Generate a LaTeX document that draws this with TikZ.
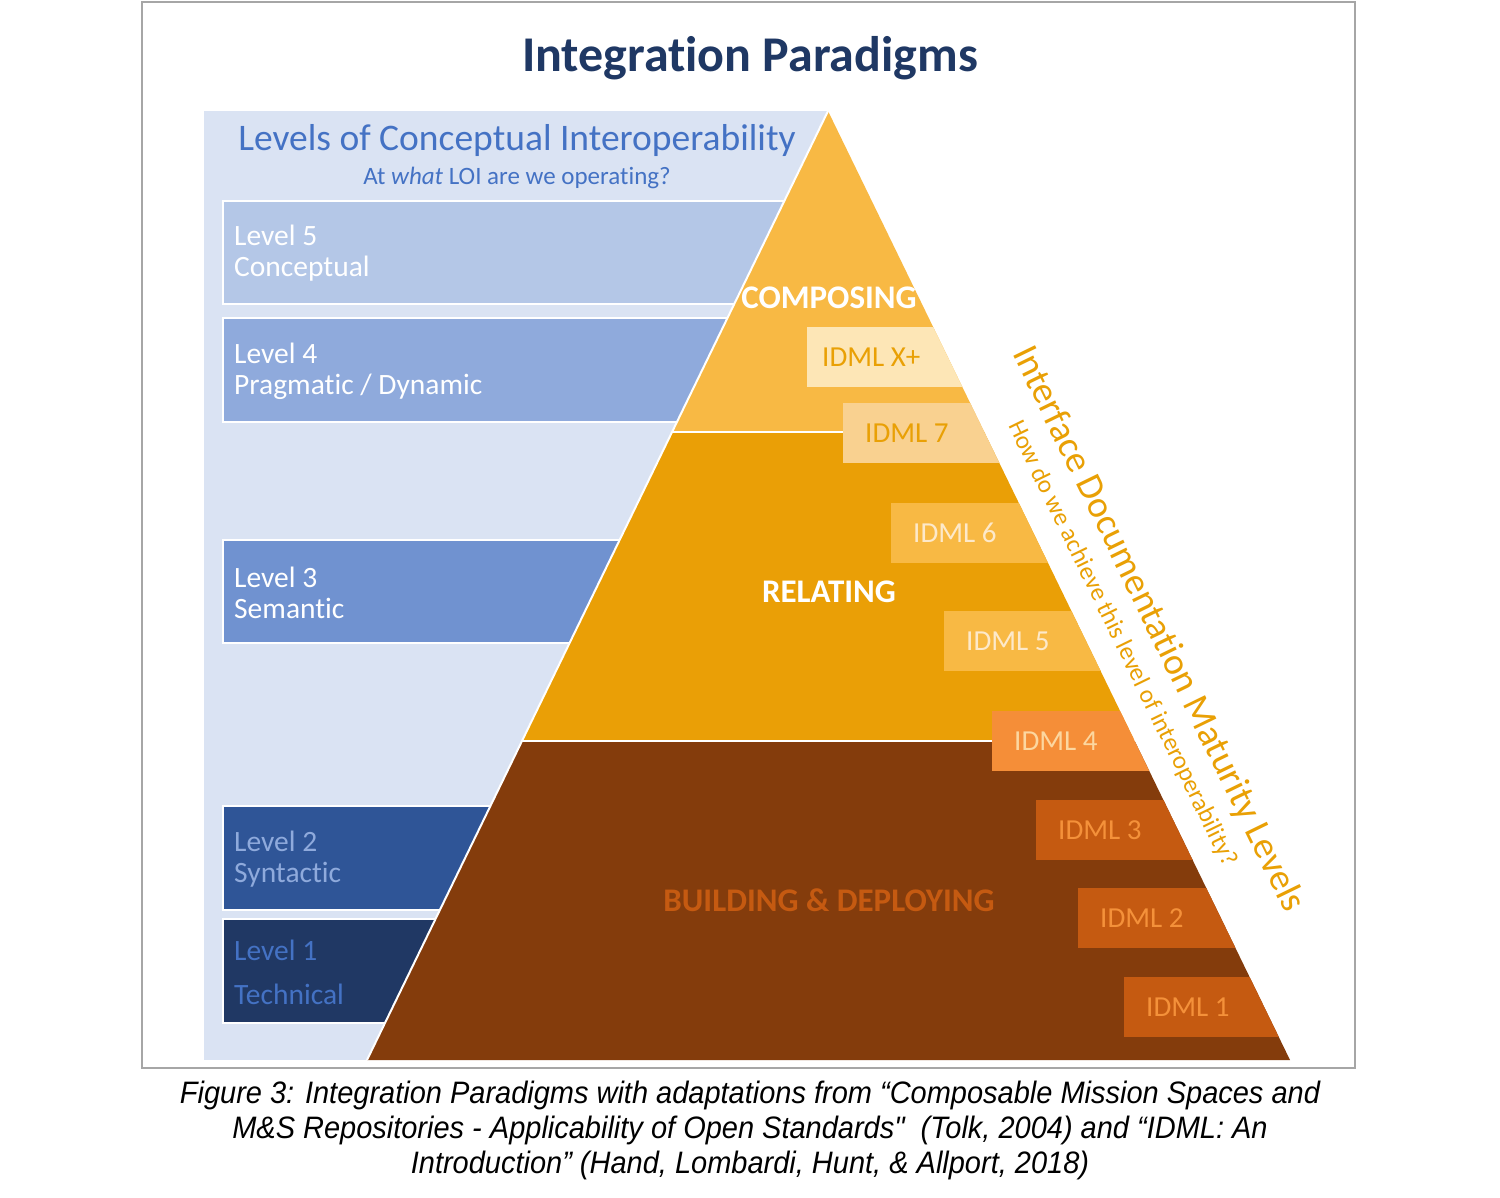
\documentclass[tikz,border=0pt]{standalone}
\usepackage{fontspec}
\setmainfont{Carlito}[Ligatures=NoCommon]
\newfontfamily\capfont[FakeStretch=0.935]{Liberation Sans}
\usepackage{tikz}
\usetikzlibrary{calc,positioning}

\definecolor{frameGray}{HTML}{A6A6A6}
\definecolor{panelBlue}{HTML}{DAE3F3}
\definecolor{titleNavy}{HTML}{1F3864}
\definecolor{loiBlue}{HTML}{4472C4}
\definecolor{lvlFive}{HTML}{B4C7E7}
\definecolor{lvlFour}{HTML}{8FAADC}
\definecolor{lvlThree}{HTML}{7092D0}
\definecolor{lvlTwo}{HTML}{2F5597}
\definecolor{lvlOne}{HTML}{203864}
\definecolor{tierTop}{HTML}{F8B944}
\definecolor{tierMid}{HTML}{EA9F06}
\definecolor{tierLow}{HTML}{843C0C}
\definecolor{idmlXp}{HTML}{FDE6B6}
\definecolor{idmlSeven}{HTML}{F9D190}
\definecolor{idmlFour}{HTML}{F58E38}
\definecolor{idmlLow}{HTML}{C55A11}
\definecolor{sideOrange}{HTML}{E9A005}
\definecolor{creamTxt}{HTML}{FDE9CA}
\definecolor{paleTxt}{HTML}{FCD7A0}
\definecolor{rustTxt}{HTML}{F4913A}

\begin{document}
\begin{tikzpicture}[
  x=1pt, y=-1pt,
  lvl/.style={draw=white, line width=2pt},
  lvltxt/.style={anchor=west, align=left, inner sep=0pt,
                 font=\fontsize{29.5}{31}\selectfont},
  tier/.style={draw=white, line width=2pt},
  idml/.style={anchor=west, inner sep=0pt, font=\fontsize{29}{31}\selectfont},
  tierlbl/.style={inner sep=0pt, font=\bfseries\fontsize{33}{36}\selectfont},
  side/.style={text=sideOrange, rotate=-64, anchor=base west, inner sep=0pt},
]
\useasboundingbox[fill=white] (0,0) rectangle (1500,1198);

% ---- frame and panel -------------------------------------------------------
\draw[frameGray, line width=2pt] (142,2) rectangle (1355,1068);
\fill[panelBlue] (204,111) rectangle (828,1060);

% ---- headings --------------------------------------------------------------
\node[text=titleNavy, font=\bfseries\fontsize{50}{54}\selectfont] (title) at (750,58)
  {Integration Paradigms};
\node[text=loiBlue, font=\fontsize{37.5}{40}\selectfont] (loiHead) at (517,141)
  {Levels of Conceptual Interoperability};
\node[text=loiBlue, font=\fontsize{25}{28}\selectfont] (loiQ) at (517,178)
  {At \emph{what} LOI are we operating?};

% ---- LOI boxes (right ends go under the pyramid) ---------------------------
\foreach \n/\yt/\yb/\c/\tc/\t in {
  5/201/304/lvlFive/white/{Level 5\\Conceptual},
  4/318/422/lvlFour/white/{Level 4\\Pragmatic / Dynamic},
  3/540/643/lvlThree/white/{Level 3\\Semantic},
  2/806/910/lvlTwo/lvlFour/{Level 2\\Syntactic},
  1/919/1023/lvlOne/loiBlue/{Level 1\\[13pt]Technical}}{
  \draw[lvl, fill=\c] (223,\yt) rectangle (800,\yb);
  \node[lvltxt, text=\tc] (lvl\n) at (234,{(\yt+\yb)/2+1}) {\t};
}

% ---- pyramid ---------------------------------------------------------------
\coordinate (apex) at (828,111);
\coordinate (bl) at (367,1060);
\coordinate (br) at (1290,1060);
\coordinate (l1) at ($(apex)!0.3383!(bl)$);
\coordinate (r1) at ($(apex)!0.3383!(br)$);
\coordinate (l2) at ($(apex)!0.6639!(bl)$);
\coordinate (r2) at ($(apex)!0.6639!(br)$);
\fill[tierTop] (apex) -- (l1) -- (r1) -- cycle;
\fill[tierMid] (l1) -- (l2) -- (r2) -- (r1) -- cycle;
\fill[tierLow] (l2) -- (bl) -- (br) -- (r2) -- cycle;
\draw[tier] (l1) -- (r1);
\draw[tier] (l2) -- (r2);
\draw[tier] (apex) -- (bl);

% ---- IDML boxes, cut by the right edge -------------------------------------
\begin{scope}
  \clip (apex) -- (bl) -- (br) -- cycle;
  \foreach \i/\xl/\yt/\dx/\fc/\tc/\t in {
    8/807/327/15/idmlXp/sideOrange/IDML X+,
    7/843/403/22/idmlSeven/sideOrange/IDML 7,
    6/891/503/22/tierTop/creamTxt/IDML 6,
    5/944/611/22/tierTop/creamTxt/IDML 5,
    4/992/711/22/idmlFour/paleTxt/IDML 4,
    3/1036/800/22/idmlLow/rustTxt/IDML 3,
    2/1078/888/22/idmlLow/rustTxt/IDML 2,
    1/1124/977/22/idmlLow/rustTxt/IDML 1}{
    \fill[\fc] (\xl,\yt) rectangle ++(320,60);
    \node[idml, text=\tc] (idml\i) at (\xl+\dx,\yt+30) {\t};
  }
\end{scope}

% ---- tier labels -----------------------------------------------------------
\node[tierlbl, text=white] (composing) at (829,298) {COMPOSING};
\node[tierlbl, text=white] (relating) at (829,592) {RELATING};
\node[tierlbl, text=idmlLow] (building) at (829,900) {BUILDING \& DEPLOYING};

% ---- right side ------------------------------------------------------------
\node[side, font=\fontsize{37.5}{40}\selectfont] (idmlHead) at (1012,353)
  {Interface Documentation Maturity Levels};
\node[side, font=\fontsize{25}{27}\selectfont] (idmlQ) at (1008,425)
  {How do we achieve this level of interoperability?};

% ---- caption ---------------------------------------------------------------
\node[align=center, font=\capfont\itshape\fontsize{31}{35}\selectfont] (caption) at (750,1130)
  {Figure 3: Integration Paradigms with adaptations from “Composable Mission Spaces and\\
   M\&S Repositories - Applicability of Open Standards"~ (Tolk, 2004) and “IDML: An\\
   Introduction” (Hand, Lombardi, Hunt, \& Allport, 2018)};
\end{tikzpicture}
\end{document}
